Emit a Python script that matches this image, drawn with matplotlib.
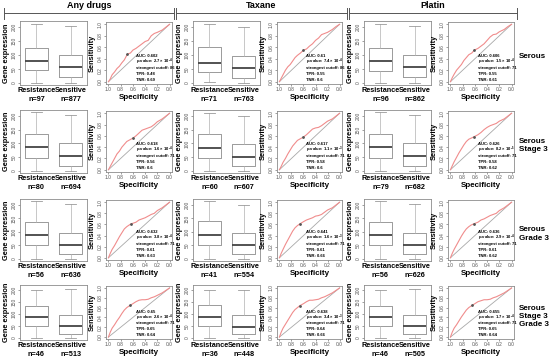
import numpy as np
import matplotlib
matplotlib.use("Agg")
from matplotlib import pyplot as plt

plt.rcParams['font.family'] = ['Liberation Sans', 'DejaVu Sans']
plt.rcParams['font.weight'] = 'bold'
plt.rcParams['mathtext.fontset'] = 'custom'
plt.rcParams['mathtext.rm'] = 'Liberation Sans:bold'
plt.rcParams['mathtext.it'] = 'Liberation Sans:italic:bold'
plt.rcParams['mathtext.default'] = 'rm'

# ---- data ----
drugs = ["Any drugs", "Taxane", "Platin"]
cohorts = ["Serous", "Serous\nStage 3", "Serous\nGrade 3", "Serous\nStage 3\nGrade 3"]
groups = ["Resistance", "Sensitive"]

# n per group [row][col] -> (resistance, sensitive)
n_counts = [
    [(97, 877), (71, 763), (96, 862)],
    [(80, 694), (60, 607), (79, 682)],
    [(56, 636), (41, 554), (56, 626)],
    [(46, 513), (36, 448), (46, 505)],
]

# box stats (whislo, q1, med, q3, whishi) for resistance / sensitive
box_res = [
    [(0, 45, 78, 125, 213), (2, 40, 72, 128, 213), (0, 42, 78, 125, 212)],
    [(0, 45, 88, 135, 213), (0, 45, 85, 135, 210), (0, 45, 88, 135, 213)],
    [(0, 50, 88, 138, 213), (0, 50, 90, 140, 213), (0, 50, 88, 138, 213)],
    [(0, 50, 90, 135, 200), (0, 50, 90, 138, 200), (0, 50, 90, 135, 200)],
]
box_sen = [
    [(0, 20, 55, 100, 205), (0, 18, 52, 95, 200), (0, 20, 55, 100, 205)],
    [(0, 18, 55, 100, 205), (0, 18, 52, 98, 200), (0, 18, 55, 100, 205)],
    [(0, 18, 52, 95, 205), (0, 18, 50, 95, 200), (0, 18, 52, 95, 205)],
    [(0, 18, 50, 95, 205), (0, 18, 48, 95, 200), (0, 18, 50, 95, 205)],
]

auc = [["0.602", "0.61", "0.606"],
       ["0.618", "0.617", "0.626"],
       ["0.632", "0.641", "0.636"],
       ["0.65", "0.638", "0.655"]]
pval = [[("2.7", "-4"), ("7.4", "-4"), ("1.5", "-4")],
        [("1.6", "-4"), ("1.1", "-3"), ("8.2", "-5")],
        [("3.8", "-4"), ("1.6", "-3"), ("2.9", "-4")],
        [("2.6", "-4"), ("3.4", "-3"), ("1.7", "-4")]]
cutoff = [[86, 86, 71], [71, 71, 71], [71, 71, 71], [71, 71, 71]]
tpr = [[0.48, 0.55, 0.55], [0.56, 0.58, 0.58], [0.61, 0.61, 0.61], [0.65, 0.64, 0.65]]
tnr = [[0.69, 0.6, 0.61], [0.6, 0.6, 0.62], [0.63, 0.66, 0.62], [0.64, 0.66, 0.64]]

# ROC curves: specificity / sensitivity
roc_spec = [
    [[1.0, 0.97, 0.94, 0.9, 0.86, 0.82, 0.78, 0.74, 0.69, 0.64, 0.6, 0.55, 0.5, 0.45, 0.4, 0.35, 0.3, 0.25, 0.2, 0.12, 0.06, 0.0],
     [1.0, 0.97, 0.94, 0.9, 0.86, 0.82, 0.78, 0.74, 0.7, 0.65, 0.6, 0.55, 0.5, 0.45, 0.4, 0.35, 0.3, 0.25, 0.2, 0.12, 0.06, 0.0],
     [1.0, 0.97, 0.94, 0.9, 0.86, 0.82, 0.78, 0.74, 0.7, 0.65, 0.61, 0.55, 0.5, 0.45, 0.4, 0.35, 0.3, 0.25, 0.2, 0.12, 0.06, 0.0]],
    [[1.0, 0.97, 0.94, 0.9, 0.86, 0.82, 0.78, 0.74, 0.7, 0.65, 0.6, 0.55, 0.5, 0.45, 0.4, 0.35, 0.3, 0.25, 0.2, 0.12, 0.06, 0.0],
     [1.0, 0.97, 0.94, 0.9, 0.86, 0.82, 0.78, 0.74, 0.7, 0.65, 0.6, 0.55, 0.5, 0.45, 0.4, 0.35, 0.3, 0.25, 0.2, 0.12, 0.06, 0.0],
     [1.0, 0.97, 0.94, 0.9, 0.86, 0.82, 0.78, 0.74, 0.7, 0.66, 0.62, 0.55, 0.5, 0.45, 0.4, 0.35, 0.3, 0.25, 0.2, 0.12, 0.06, 0.0]],
    [[1.0, 0.97, 0.94, 0.9, 0.86, 0.82, 0.78, 0.74, 0.7, 0.66, 0.63, 0.55, 0.5, 0.45, 0.4, 0.35, 0.3, 0.25, 0.2, 0.12, 0.06, 0.0],
     [1.0, 0.97, 0.94, 0.9, 0.86, 0.82, 0.78, 0.74, 0.7, 0.66, 0.6, 0.55, 0.5, 0.45, 0.4, 0.35, 0.3, 0.25, 0.2, 0.12, 0.06, 0.0],
     [1.0, 0.97, 0.94, 0.9, 0.86, 0.82, 0.78, 0.74, 0.7, 0.66, 0.62, 0.55, 0.5, 0.45, 0.4, 0.35, 0.3, 0.25, 0.2, 0.12, 0.06, 0.0]],
    [[1.0, 0.97, 0.94, 0.9, 0.86, 0.82, 0.78, 0.74, 0.7, 0.64, 0.6, 0.55, 0.5, 0.45, 0.4, 0.35, 0.3, 0.25, 0.2, 0.12, 0.06, 0.0],
     [1.0, 0.97, 0.94, 0.9, 0.86, 0.82, 0.78, 0.74, 0.7, 0.66, 0.6, 0.55, 0.5, 0.45, 0.4, 0.35, 0.3, 0.25, 0.2, 0.12, 0.06, 0.0],
     [1.0, 0.97, 0.94, 0.9, 0.86, 0.82, 0.78, 0.74, 0.7, 0.64, 0.6, 0.55, 0.5, 0.45, 0.4, 0.35, 0.3, 0.25, 0.2, 0.12, 0.06, 0.0]],
]
roc_sens = [
    [[0.0, 0.05, 0.12, 0.17, 0.23, 0.27, 0.33, 0.38, 0.48, 0.5, 0.55, 0.58, 0.62, 0.66, 0.7, 0.72, 0.8, 0.84, 0.86, 0.9, 0.95, 1.0],
     [0.0, 0.06, 0.12, 0.2, 0.26, 0.3, 0.36, 0.42, 0.46, 0.5, 0.55, 0.57, 0.62, 0.66, 0.72, 0.76, 0.82, 0.84, 0.86, 0.91, 0.96, 1.0],
     [0.0, 0.07, 0.13, 0.2, 0.25, 0.3, 0.37, 0.42, 0.47, 0.5, 0.55, 0.58, 0.62, 0.66, 0.72, 0.78, 0.82, 0.83, 0.87, 0.91, 0.96, 1.0]],
    [[0.0, 0.06, 0.12, 0.2, 0.28, 0.33, 0.4, 0.45, 0.5, 0.53, 0.56, 0.6, 0.65, 0.7, 0.72, 0.74, 0.76, 0.8, 0.85, 0.9, 0.95, 1.0],
     [0.0, 0.06, 0.13, 0.2, 0.28, 0.35, 0.42, 0.47, 0.52, 0.55, 0.58, 0.62, 0.67, 0.72, 0.74, 0.75, 0.78, 0.82, 0.86, 0.9, 0.95, 1.0],
     [0.0, 0.07, 0.14, 0.22, 0.3, 0.37, 0.44, 0.5, 0.54, 0.56, 0.58, 0.62, 0.66, 0.71, 0.75, 0.78, 0.8, 0.82, 0.86, 0.9, 0.95, 1.0]],
    [[0.0, 0.08, 0.15, 0.22, 0.3, 0.38, 0.45, 0.52, 0.56, 0.59, 0.61, 0.64, 0.68, 0.7, 0.72, 0.75, 0.78, 0.8, 0.85, 0.9, 0.95, 1.0],
     [0.0, 0.08, 0.15, 0.24, 0.32, 0.4, 0.48, 0.54, 0.58, 0.61, 0.65, 0.68, 0.7, 0.72, 0.75, 0.76, 0.78, 0.82, 0.86, 0.9, 0.95, 1.0],
     [0.0, 0.08, 0.15, 0.23, 0.31, 0.39, 0.46, 0.52, 0.56, 0.59, 0.61, 0.64, 0.68, 0.7, 0.73, 0.76, 0.78, 0.8, 0.85, 0.9, 0.95, 1.0]],
    [[0.0, 0.1, 0.18, 0.25, 0.33, 0.4, 0.48, 0.55, 0.6, 0.65, 0.68, 0.72, 0.75, 0.76, 0.76, 0.77, 0.8, 0.82, 0.85, 0.9, 0.95, 1.0],
     [0.0, 0.1, 0.18, 0.26, 0.34, 0.42, 0.5, 0.56, 0.6, 0.64, 0.68, 0.72, 0.75, 0.75, 0.76, 0.77, 0.8, 0.82, 0.85, 0.9, 0.95, 1.0],
     [0.0, 0.1, 0.18, 0.25, 0.33, 0.41, 0.48, 0.55, 0.6, 0.65, 0.68, 0.72, 0.74, 0.76, 0.76, 0.77, 0.8, 0.82, 0.85, 0.9, 0.95, 1.0]],
]

# ---- layout (pixels) ----
W, H = 550, 363
fig = plt.figure(figsize=(W / 100, H / 100), dpi=100)

def add_ax(x0, y0, w, h):
    return fig.add_axes([x0 / W, 1 - (y0 + h) / H, w / W, h / H])

box_x = [20, 193, 364]
box_w = [67, 67, 67]
roc_x = [106, 277, 448]
roc_w = [66, 65, 66]
row_y = [21, 110, 199, 285]
row_h = [64, 63, 62, 55]
frame_col = '#8c8c8c'

for r in range(4):
    for c in range(3):
        # boxplot
        ax = add_ax(box_x[c], row_y[r], box_w[c], row_h[r])
        stats = []
        for g, s in zip(groups, [box_res[r][c], box_sen[r][c]]):
            stats.append(dict(whislo=s[0], q1=s[1], med=s[2], q3=s[3], whishi=s[4], fliers=[], label=g))
        ax.bxp(stats, widths=0.66, showfliers=False,
               boxprops=dict(color='#9a9a9a', lw=0.7),
               whiskerprops=dict(color='#b0b0b0', lw=0.5),
               capprops=dict(color='#9a9a9a', lw=0.6),
               medianprops=dict(color='#444444', lw=1.3))
        ax.set_ylim(-8, 222)
        ax.set_xlim(0.52, 2.48)
        ax.set_yticks([0, 50, 100, 150, 200])
        ax.set_yticklabels(['0', '50', '100', '150', '200'], rotation=90, va='center',
                           fontsize=3.5, fontweight='normal', color='#555555')
        ax.set_xticks([1, 2])
        ax.set_xticklabels(["%s\nn=%d" % (groups[0], n_counts[r][c][0]),
                            "%s\nn=%d" % (groups[1], n_counts[r][c][1])],
                           fontsize=5.2, fontweight='bold', linespacing=1.3)
        ax.tick_params(axis='x', length=0, pad=1.5)
        ax.tick_params(axis='y', length=1.5, width=0.4, pad=1, colors='#555555')
        ax.set_ylabel("Gene expression", fontsize=5.3, fontweight='bold', labelpad=1)
        for sp in ax.spines.values():
            sp.set_color(frame_col)
            sp.set_linewidth(0.6)

        # ROC
        rh = row_h[r] - 2
        ax = add_ax(roc_x[c], row_y[r] + 1, roc_w[c], rh)
        ax.plot([1, 0], [0, 1], color='#a8a8a8', lw=0.6)
        ax.plot(roc_spec[r][c], roc_sens[r][c], color='#f08c8c', lw=0.8)
        ax.plot([tnr[r][c]], [tpr[r][c]], marker='.', ms=2, color='#555555')
        ax.set_xlim(1.04, -0.04)
        ax.set_ylim(-0.04, 1.04)
        ticks = [0.0, 0.2, 0.4, 0.6, 0.8, 1.0]
        ax.set_xticks(ticks)
        ax.set_xticklabels(['%.1f' % t for t in ticks], fontsize=3.5, fontweight='normal', color='#555555')
        ax.set_yticks(ticks)
        ax.set_yticklabels(['%.1f' % t for t in ticks], fontsize=3.5, fontweight='normal',
                           rotation=90, va='center', color='#555555')
        ax.tick_params(length=1.5, width=0.4, pad=1, colors='#555555')
        ax.set_xlabel("Specificity", fontsize=5.8, fontweight='bold', labelpad=1)
        ax.set_ylabel("Sensitivity", fontsize=5.3, fontweight='bold', labelpad=1)
        for sp in ax.spines.values():
            sp.set_color(frame_col)
            sp.set_linewidth(0.6)
        pv = pval[r][c]
        lines = ["AUC: %s" % auc[r][c],
                 "$\\it{p}$-value: %s $\\times$ 10$^{%s}$" % (pv[0], pv[1]),
                 "strongest cutoff: %d" % cutoff[r][c],
                 "TPR: %s" % tpr[r][c],
                 "TNR: %s" % tnr[r][c]]
        step = 5.9 / rh
        for i, ln in enumerate(lines):
            ax.text(0.45, 0.07 + (4 - i) * step, ln, transform=ax.transAxes, fontsize=3.0,
                    fontweight='bold', ha='left', va='center')

    fig.text(519 / W, 1 - (row_y[r] + row_h[r] / 2 + 4) / H, cohorts[r], fontsize=5.8,
             fontweight='bold', ha='left', va='center', linespacing=1.25)

# column headers
head_l = [4, 176, 349]
head_r = [174, 347, 517]
for c in range(3):
    yl = 1 - 13 / H
    fig.add_artist(plt.Line2D([head_l[c] / W, head_r[c] / W], [yl, yl], color='#555555', lw=0.7))
    for xx in (head_l[c], head_r[c]):
        fig.add_artist(plt.Line2D([xx / W, xx / W], [1 - 8 / H, 1 - 19 / H], color='#555555', lw=0.7))
    fig.text((head_l[c] + head_r[c]) / 2 / W, 1 - 6 / H, drugs[c], fontsize=6.5,
             fontweight='bold', ha='center', va='center')

fig.savefig("out.png", dpi=100)
